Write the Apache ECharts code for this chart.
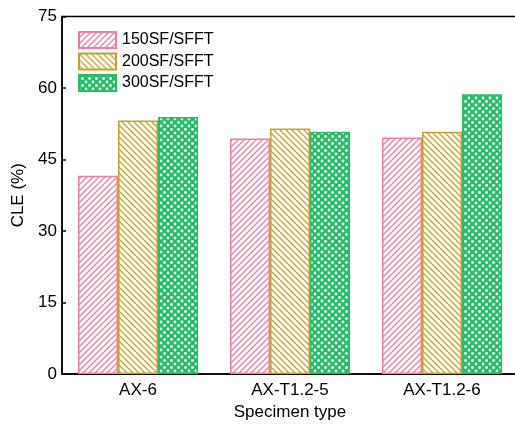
<!DOCTYPE html>
<html>
<head>
<meta charset="utf-8">
<script src="https://cdn.jsdelivr.net/npm/echarts@6/dist/echarts.min.js"></script>
<style>
  html, body { margin: 0; padding: 0; background: #fff; }
  #chart { width: 515px; height: 425px; }
</style>
</head>
<body>
<div id="chart"></div>
<script>
// 数据
const categories = ["AX-6", "AX-T1.2-5", "AX-T1.2-6"];
const seriesNames = ["150SF/SFFT", "200SF/SFFT", "300SF/SFFT"];
const sf150 = [41.6, 49.4, 49.6];
const sf200 = [53.2, 51.5, 50.8];
const sf300 = [53.9, 50.8, 58.7];
const yTicks = [0, 15, 30, 45, 60, 75];

const pink = "#F27E9E";
const gold = "#C5A12C";
const green = "#25BD64";

// 斜线填充
function hatch(color, dir) {
    let c = document.createElement("canvas");
    c.width = 6; c.height = 6;
    let ctx = c.getContext("2d");
    ctx.fillStyle = "#fff";
    ctx.fillRect(0, 0, 6, 6);
    ctx.strokeStyle = color;
    ctx.lineWidth = 1.3;
    ctx.beginPath();
    if (dir == "/") {
        ctx.moveTo(-1, 7); ctx.lineTo(7, -1);
        ctx.moveTo(-1, 1); ctx.lineTo(1, -1);
        ctx.moveTo(5, 7); ctx.lineTo(7, 5);
    } else {
        ctx.moveTo(-1, -1); ctx.lineTo(7, 7);
        ctx.moveTo(5, -1); ctx.lineTo(7, 1);
        ctx.moveTo(-1, 5); ctx.lineTo(1, 7);
    }
    ctx.stroke();
    return { image: c, repeat: "repeat" };
}

// 网格填充（绿色底白点）
function dots(color) {
    let c = document.createElement("canvas");
    c.width = 7; c.height = 7;
    let ctx = c.getContext("2d");
    ctx.fillStyle = color;
    ctx.fillRect(0, 0, 7, 7);
    ctx.fillStyle = "#fff";
    [[0, 0], [7, 0], [0, 7], [7, 7], [3.5, 3.5]].forEach(p => {
        ctx.beginPath();
        ctx.arc(p[0], p[1], 1.4, 0, Math.PI * 2);
        ctx.fill();
    });
    return { image: c, repeat: "repeat" };
}

const fills = [hatch(pink, "/"), hatch(gold, "\\"), dots(green)];
const borders = [pink, gold, green];
const values = [sf150, sf200, sf300];

const font = "Liberation Sans, Arial, sans-serif";
const myChart = echarts.init(document.getElementById("chart"), null, { renderer: "canvas" });

myChart.setOption({
    animation: false,
    backgroundColor: "#fff",
    grid: {
        left: 62, top: 16.5, width: 456, height: 357.5,
        show: true, borderColor: "#000", borderWidth: 1.5,
        containLabel: false,
        outerBoundsMode: "none"
    },
    legend: {
        data: seriesNames,
        orient: "vertical",
        left: 78, top: 31,
        padding: 0,
        icon: "rect",
        itemWidth: 37, itemHeight: 16, itemGap: 3.5,
        textStyle: { fontFamily: font, fontSize: 16, color: "#000", padding: [0, 0, 0, 1] }
    },
    xAxis: {
        type: "category",
        data: categories,
        name: "Specimen type",
        nameLocation: "middle",
        nameGap: 29,
        nameTextStyle: { fontFamily: font, fontSize: 17, color: "#000" },
        axisLine: { lineStyle: { color: "#000", width: 1.5 } },
        axisTick: { show: false },
        axisLabel: { fontFamily: font, fontSize: 17, color: "#000", margin: 8 }
    },
    yAxis: {
        type: "value",
        min: yTicks[0], max: yTicks[yTicks.length - 1], interval: 15,
        name: "CLE (%)",
        nameLocation: "middle",
        nameGap: 35,
        nameTextStyle: { fontFamily: font, fontSize: 17, color: "#000" },
        axisLine: { show: true, lineStyle: { color: "#000", width: 1.5 } },
        axisTick: { show: true, inside: true, length: 4, lineStyle: { color: "#000", width: 1.5 } },
        axisLabel: { fontFamily: font, fontSize: 17, color: "#000", margin: 5 },
        splitLine: { show: false }
    },
    series: seriesNames.map((name, i) => ({
        name: name,
        type: "bar",
        data: values[i],
        barWidth: 40,
        barGap: "0%",
        itemStyle: { color: fills[i], borderColor: borders[i], borderWidth: 1.5 }
    }))
});
</script>
</body>
</html>
